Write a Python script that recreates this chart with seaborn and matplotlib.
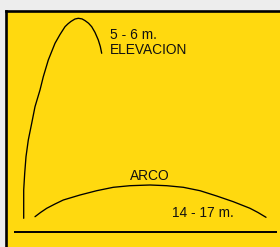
import matplotlib
matplotlib.use("Agg")
import matplotlib.pyplot as plt
import seaborn as sns
import pandas as pd

elev_x = [23.7, 23.7, 24.7, 26.0, 28.3, 31.7, 35.0, 40.0, 43.3, 48.3, 55.0, 60.0,
          65.0, 68.0, 71.0, 75.0, 78.3, 82.0, 85.0, 88.5, 91.7, 95.0, 98.3, 100.3, 101.7]
elev_h = [13.7, 42.0, 58.7, 75.3, 92.0, 108.7, 125.3, 142.0, 155.3, 172.0, 188.7, 197.5,
          205.3, 208.2, 210.6, 213.0, 213.7, 213.1, 211.4, 208.8, 205.3, 199.6, 192.0, 185.5, 178.7]

arco_x = [35.0, 40.5, 46.7, 55.0, 63.3, 80.0, 96.7, 113.3, 130.0, 150.0, 166.7,
          183.3, 200.0, 216.7, 233.3, 250.0, 258.0, 266.0]
arco_h = [15.3, 19.5, 23.7, 28.0, 32.0, 37.0, 41.3, 44.7, 46.3, 47.0, 46.3,
          44.7, 41.3, 36.0, 30.3, 23.7, 19.5, 14.7]

ground_x = [14.3, 277.0]
ground_h = [0.0, 0.0]

labels = ["5 - 6 m.", "ELEVACION", "ARCO", "14 - 17 m."]
label_x = [110.0, 110.0, 130.0, 172.5]
label_h = [193.0, 178.0, 52.0, 15.3]

YELLOW = "#FFD90F"
BG = "#EDEDED"

sns.set_style("white")
plt.rcParams["font.family"] = ["Liberation Sans", "DejaVu Sans"]

fig = plt.figure(figsize=(2.80, 2.47), dpi=100, facecolor=BG)
ax = fig.add_axes([6 / 280, 0, 1 - 6 / 280, (247 - 11) / 247])
ax.set_facecolor(YELLOW)

elev = pd.DataFrame({"x": elev_x, "h": elev_h})
arco = pd.DataFrame({"x": arco_x, "h": arco_h})
sns.lineplot(data=elev, x="x", y="h", sort=False, estimator=None,
             color="black", linewidth=0.95, ax=ax)
sns.lineplot(data=arco, x="x", y="h", sort=False, estimator=None,
             color="black", linewidth=0.95, ax=ax)
ax.plot(ground_x, ground_h, color="black", linewidth=1.4, solid_capstyle="butt")

for txt, tx, th in zip(labels, label_x, label_h):
    ax.text(tx, th, txt, fontsize=9.9, color="#111111", ha="left", va="baseline")

ax.set_xlim(6, 280)
ax.set_ylim(-15, 221)
ax.set_xticks([])
ax.set_yticks([])
ax.set_xlabel("")
ax.set_ylabel("")
for side in ["right", "bottom"]:
    ax.spines[side].set_visible(False)
for side in ["left", "top"]:
    ax.spines[side].set_visible(True)
    ax.spines[side].set_color("black")
    ax.spines[side].set_linewidth(1.9)

fig.savefig("out.png", dpi=100, facecolor=BG)
